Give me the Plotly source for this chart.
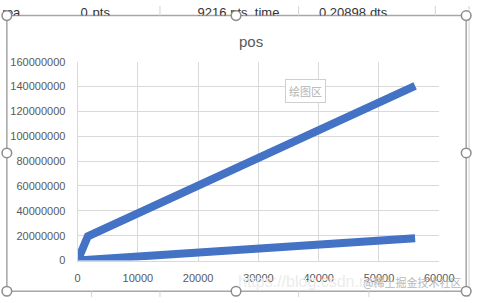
import plotly.graph_objects as go

W, H = 486, 303

# ---- data ----
pts = [56000, 1700, 0, 56000]
pos = [140500000, 19500000, 0, 18000000]

x_ticks = [0, 10000, 20000, 30000, 40000, 50000, 60000]
y_ticks = [0, 20000000, 40000000, 60000000, 80000000, 100000000, 120000000, 140000000, 160000000]

# spreadsheet row above the chart (partially hidden)
cell_right_texts = ["rea", "0", "9216", "0.20898"]
cell_right_x = [18, 88, 232, 377]
cell_left_texts = ["pts", "pts_time", "dts"]
cell_left_x = [93, 236, 381]


def px(x):
    return x / W


def py(y):
    return 1 - y / H


fig = go.Figure()

fig.add_trace(go.Scatter(
    x=pts, y=pos, mode="lines", name="pos",
    line=dict(color="#4472C4", width=8),
    xaxis="x", yaxis="y", showlegend=False, hoverinfo="skip",
))

# top spreadsheet text (clipped by its own subplot)
fig.add_trace(go.Scatter(
    x=cell_right_x, y=[8] * len(cell_right_x), text=cell_right_texts,
    mode="text", textposition="middle left", cliponaxis=True,
    textfont=dict(family="Liberation Sans", size=13, color="#333333"),
    xaxis="x2", yaxis="y2", showlegend=False, hoverinfo="skip",
))
fig.add_trace(go.Scatter(
    x=cell_left_x, y=[8] * len(cell_left_x), text=cell_left_texts,
    mode="text", textposition="middle right", cliponaxis=True,
    textfont=dict(family="Liberation Sans", size=13, color="#333333"),
    xaxis="x2", yaxis="y2", showlegend=False, hoverinfo="skip",
))

axis_font = dict(family="Liberation Sans", size=11, color="#595959")

fig.update_layout(
    width=W, height=H,
    margin=dict(l=0, r=0, t=0, b=0),
    paper_bgcolor="white", plot_bgcolor="white",
    showlegend=False,
    xaxis=dict(
        domain=[px(77.5), px(453)], range=[0, 60000],
        tickvals=x_ticks, tickformat="d",
        showgrid=True, gridcolor="#d9d9d9", gridwidth=1,
        zeroline=False, showline=True, linecolor="#d9d9d9", linewidth=1,
        ticks="outside", ticklen=7, tickcolor="rgba(0,0,0,0)",
        tickfont=axis_font, anchor="y",
    ),
    yaxis=dict(
        domain=[py(265), py(58)], range=[0, 160000000],
        tickvals=y_ticks, tickformat="d",
        showgrid=True, gridcolor="#d9d9d9", gridwidth=1,
        zeroline=False, showline=True, linecolor="#d9d9d9", linewidth=1,
        ticks="outside", ticklen=9, tickcolor="rgba(0,0,0,0)",
        tickfont=axis_font, anchor="x",
    ),
    xaxis2=dict(domain=[0, 1], range=[0, W], visible=False, anchor="y2", fixedrange=True),
    yaxis2=dict(domain=[py(10), 1], range=[10, 0], visible=False, anchor="x2", fixedrange=True),
)

shapes = []
# spreadsheet column separators in top row
for sx in [163, 307, 449]:
    shapes.append(dict(type="line", xref="paper", yref="paper",
                       x0=px(sx), x1=px(sx), y0=py(0), y1=py(10),
                       line=dict(color="#d4d4d4", width=1)))
# bottom row separators
for sx in [92, 163, 307, 380]:
    shapes.append(dict(type="line", xref="paper", yref="paper",
                       x0=px(sx), x1=px(sx), y0=py(297), y1=py(303),
                       line=dict(color="#d4d4d4", width=1)))
# right spreadsheet edge
shapes.append(dict(type="line", xref="paper", yref="paper", x0=px(484), x1=px(484), y0=0, y1=1,
                   line=dict(color="#cfcfcf", width=1)))
# chart frame
shapes.append(dict(type="rect", xref="paper", yref="paper",
                   x0=px(4), x1=px(481), y0=py(297), y1=py(10),
                   line=dict(color="#a6a6a6", width=1.5), layer="below"))
# selection handles
r = 5
for hx, hy in [(4, 10), (242, 10), (481, 10), (4, 153), (481, 153), (4, 297), (242, 297), (481, 297)]:
    shapes.append(dict(type="circle", xref="paper", yref="paper",
                       x0=px(hx - r), x1=px(hx + r), y0=py(hy + r), y1=py(hy - r),
                       line=dict(color="#8c8c8c", width=1.5), fillcolor="white"))
fig.update_layout(shapes=shapes)

annotations = [
    dict(text="pos", xref="paper", yref="paper", x=px(258), y=py(37),
         xanchor="center", yanchor="middle",
         showarrow=False, font=dict(family="Liberation Sans", size=15, color="#595959")),
    dict(text="绘图区", xref="paper", yref="paper", x=px(314), y=py(88),
         xanchor="center", yanchor="middle",
         showarrow=False, font=dict(family="Noto Sans CJK SC", size=11, color="#b4b4b4"),
         bgcolor="white", bordercolor="#cfcfcf", borderwidth=1, borderpad=3),
    dict(text="https://blog.csdn.net/", xref="paper", yref="paper", x=px(242), y=py(287),
         xanchor="left", yanchor="middle", showarrow=False,
         font=dict(family="Liberation Sans", size=16, color="#ececec")),
    dict(text="@稀土掘金技术社区", xref="paper", yref="paper", x=px(478), y=py(287),
         xanchor="right", yanchor="middle", showarrow=False,
         font=dict(family="Noto Sans CJK SC", size=11, color="#b8b8b8")),
]
fig.update_layout(annotations=annotations)

fig.write_html("out.html")
